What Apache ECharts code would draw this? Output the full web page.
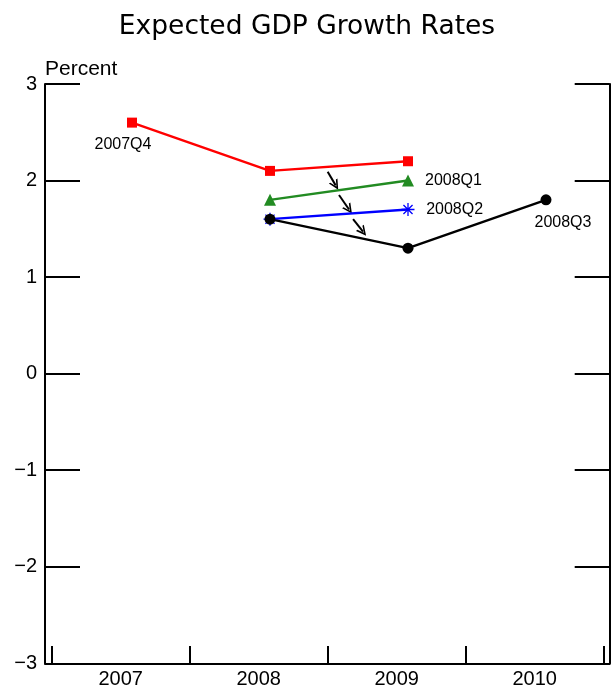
<!DOCTYPE html>
<html>
<head>
<meta charset="utf-8">
<title>Expected GDP Growth Rates</title>
<script src="https://cdn.jsdelivr.net/npm/echarts@6/dist/echarts.min.js"></script>
<style>
  html, body { margin: 0; padding: 0; background: #fff; }
  #chart { width: 614px; height: 689px; }
</style>
</head>
<body>
<div id="chart"></div>
<script>
  // axis labels
  var yearLabels = ['2007', '2008', '2009', '2010'];
  var yTicks = [-3, -2, -1, 0, 1, 2, 3];

  // forecasts made in each quarter (year, percent)
  var q2007Q4 = [[2007, 2.6], [2008, 2.1], [2009, 2.2]];
  var q2008Q1 = [[2008, 1.8], [2009, 2.0]];
  var q2008Q2 = [[2008, 1.6], [2009, 1.7]];
  var q2008Q3 = [[2008, 1.6], [2009, 1.3], [2010, 1.8]];

  // little arrows showing the revisions
  var revisionArrows = [
    [[2008.418, 2.09], [2008.476, 1.95]],
    [[2008.50, 1.85], [2008.573, 1.70]],
    [[2008.602, 1.60], [2008.674, 1.47]]
  ];

  var font = 'Liberation Sans, Arial, sans-serif';
  var asterisk = 'path://M0,5 L10,5 M5,0 L5,10 M1.5,1.5 L8.5,8.5 M1.5,8.5 L8.5,1.5';
  var chevron = 'path://M5,0 L10,10 L8.2,10 L5,3.6 L1.8,10 L0,10 Z';

  var chart = echarts.init(document.getElementById('chart'));

  function endLabel(pos, offset) {
    return {
      show: true, position: pos, offset: offset,
      formatter: '{a}',
      fontSize: 16, fontFamily: font, color: '#000'
    };
  }

  var option = {
    backgroundColor: '#fff',
    animation: false,
    title: {
      text: 'Expected GDP Growth Rates',
      left: 'center',
      top: 9,
      textStyle: { fontFamily: 'DejaVu Sans', fontWeight: 'normal', fontSize: 26.5, color: '#000' }
    },
    grid: [
      { left: 45, right: 4.3, top: 84, bottom: 25.7, containLabel: false },
      { left: 51.7, right: 10.3, top: 84, bottom: 25.7, containLabel: false }
    ],
    xAxis: [
      {
        type: 'value', gridIndex: 0,
        min: 2006.3696, max: 2010.4616,
        axisLine: { show: true, onZero: false, lineStyle: { color: '#000', width: 2 } },
        axisTick: { show: false }, axisLabel: { show: false }, splitLine: { show: false }
      },
      {
        type: 'category', gridIndex: 1, data: yearLabels, boundaryGap: true,
        axisLine: { show: false, onZero: false },
        axisTick: { show: true, inside: true, length: 17, lineStyle: { color: '#000', width: 2 } },
        axisLabel: { fontSize: 20, fontFamily: font, color: '#000', margin: 6 },
        splitLine: { show: false }
      }
    ],
    yAxis: [
      {
        type: 'value', gridIndex: 0, position: 'left',
        min: -3, max: 3, interval: 1,
        name: 'Percent', nameLocation: 'end', nameGap: 4,
        nameTextStyle: { fontSize: 21, fontFamily: font, color: '#000', align: 'left', verticalAlign: 'bottom' },
        axisLine: { show: true, onZero: false, lineStyle: { color: '#000', width: 2 } },
        axisTick: { show: true, inside: true, length: 35, lineStyle: { color: '#000', width: 2 } },
        axisLabel: {
          fontSize: 20, fontFamily: font, color: '#000', margin: 8,
          formatter: function (v) { return String(v).replace('-', '\u2212'); }
        },
        splitLine: { show: false }
      },
      {
        type: 'value', gridIndex: 0, position: 'right',
        min: -3, max: 3, interval: 1,
        axisLine: { show: true, onZero: false, lineStyle: { color: '#000', width: 2 } },
        axisTick: { show: true, inside: true, length: 35, lineStyle: { color: '#000', width: 2 } },
        axisLabel: { show: false }, splitLine: { show: false }
      },
      {
        type: 'value', gridIndex: 1, show: false, min: -3, max: 3
      }
    ],
    series: [
      {
        name: '2007Q4', type: 'line', xAxisIndex: 0, yAxisIndex: 0,
        data: q2007Q4.map(function (d, i) {
          return i === 0 ? { value: d, label: endLabel('bottom', [-9, 4]) } : d;
        }),
        symbol: 'rect', symbolSize: 10,
        lineStyle: { color: '#ff0000', width: 2.4 }, itemStyle: { color: '#ff0000' }
      },
      {
        name: '2008Q1', type: 'line', xAxisIndex: 0, yAxisIndex: 0,
        data: q2008Q1.map(function (d, i) {
          return i === q2008Q1.length - 1 ? { value: d, label: endLabel('right', [6, 0]) } : d;
        }),
        symbol: 'triangle', symbolSize: 12,
        lineStyle: { color: '#228b22', width: 2.4 }, itemStyle: { color: '#228b22' }
      },
      {
        name: '2008Q2', type: 'line', xAxisIndex: 0, yAxisIndex: 0,
        data: q2008Q2.map(function (d, i) {
          return i === q2008Q2.length - 1 ? { value: d, label: endLabel('right', [6, 0]) } : d;
        }),
        symbol: asterisk, symbolSize: 13,
        lineStyle: { color: '#0000ff', width: 2.4 },
        itemStyle: { color: 'rgba(0,0,0,0)', borderColor: '#0000ff', borderWidth: 1.3 }
      },
      {
        name: '2008Q3', type: 'line', xAxisIndex: 0, yAxisIndex: 0,
        data: q2008Q3.map(function (d, i) {
          return i === q2008Q3.length - 1 ? { value: d, label: endLabel('bottom', [17, 4]) } : d;
        }),
        symbol: 'circle', symbolSize: 11,
        lineStyle: { color: '#000', width: 2.4 }, itemStyle: { color: '#000' }
      },
      {
        name: 'revisions', type: 'lines', coordinateSystem: 'cartesian2d',
        xAxisIndex: 0, yAxisIndex: 0,
        symbol: ['none', chevron], symbolSize: 10,
        lineStyle: { color: '#000', width: 2, opacity: 1 },
        data: revisionArrows.map(function (c) { return { coords: c }; })
      }
    ]
  };

  chart.setOption(option);
</script>
</body>
</html>
